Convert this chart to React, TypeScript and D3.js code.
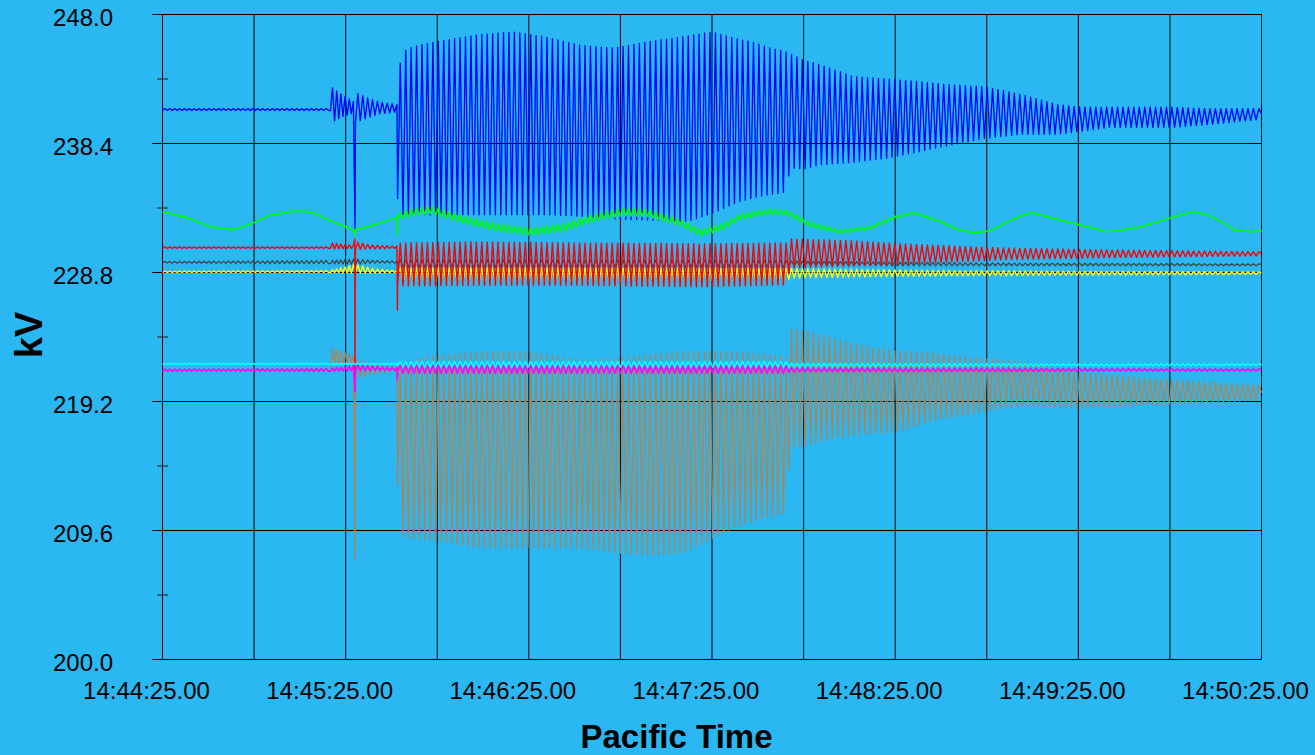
import React from "react";
import * as d3 from "d3";

type Pt = [number, number];

// time axis: seconds after 14:44:25
const timeTicks = [0, 60, 120, 180, 240, 300, 360];
const timeLabels = ["14:44:25.00", "14:45:25.00", "14:46:25.00", "14:47:25.00", "14:48:25.00", "14:49:25.00", "14:50:25.00"];
const gridSeconds = [0, 30, 60, 90, 120, 150, 180, 210, 240, 270, 300, 330, 360];
const kvTicks = [248.0, 238.4, 228.8, 219.2, 209.6, 200.0];
const kvMinor = [243.2, 233.6, 224.0, 214.4, 204.8];

// swing phases: start (s) and period (s) of the oscillation
const phaseStart = [0, 55, 63.2, 77];
const phasePeriod = [1.6, 1.37, 1.6, 1.78];

// blue trace, upper / lower swing (kV)
const blueT = [0, 55, 55.3, 59, 62.8, 63.2, 67, 71, 76.8, 77, 78.5, 82, 88, 93, 104, 115, 126, 137, 148, 160, 172, 180, 188, 194, 199, 204.5, 205.5, 210, 215, 226, 237, 248, 256, 270, 282, 293, 301, 310, 320, 331, 342, 360];
const blueHi = [241.0, 241.0, 242.6, 242.0, 241.5, 242.2, 241.8, 241.5, 241.3, 243.2, 245.2, 245.6, 245.9, 246.1, 246.5, 246.7, 246.3, 245.7, 245.5, 246.0, 246.4, 246.7, 246.2, 245.9, 245.5, 245.2, 245.1, 244.6, 244.3, 243.4, 243.2, 243.0, 242.8, 242.6, 242.0, 241.3, 241.1, 241.1, 241.1, 241.1, 241.0, 241.0];
const blueLo = [240.85, 240.85, 239.95, 240.4, 240.7, 239.95, 240.3, 240.6, 240.75, 234.3, 233.1, 233.1, 233.1, 233.1, 233.1, 233.1, 233.1, 233.0, 232.8, 232.7, 232.6, 233.2, 234.0, 234.4, 234.6, 234.8, 236.6, 236.5, 236.8, 237.0, 237.3, 237.8, 238.2, 238.8, 239.1, 239.1, 239.3, 239.6, 239.6, 239.6, 239.8, 240.2];
const blueSpikes: Pt[] = [[63.06, 232.0]];

// green trace: slow swing plus a small fast ripple
const greenT = [0, 8.2, 15.7, 23.3, 29.8, 35.4, 44.2, 49.5, 57.3, 62.6, 67.2, 72.4, 76.3, 81.2, 87.8, 98.6, 109.7, 120.5, 131.4, 142.5, 151.0, 158.9, 169.7, 176.2, 182.8, 189.3, 198.2, 204.7, 212.3, 222.1, 231.9, 239.5, 246.0, 254.8, 260.4, 265.7, 271.2, 276.8, 282.0, 285.3, 289.9, 296.4, 303.0, 309.6, 314.8, 320.4, 325.9, 331.2, 337.7, 342.3, 347.6, 350.8, 356.4, 360];
const greenKv = [233.32, 232.87, 232.2, 231.98, 232.5, 233.09, 233.39, 233.24, 232.42, 231.98, 232.2, 232.57, 232.87, 233.24, 233.47, 232.72, 232.13, 231.83, 232.13, 232.94, 233.32, 233.24, 232.5, 231.75, 232.13, 232.94, 233.32, 233.24, 232.35, 231.83, 232.13, 232.87, 233.24, 232.6, 232.0, 231.75, 231.9, 232.57, 233.09, 233.24, 232.94, 232.57, 232.2, 231.83, 231.98, 232.2, 232.57, 232.94, 233.32, 233.09, 232.5, 231.98, 231.83, 231.9];
const greenRippleT = [0, 76.9, 77.5, 160, 205, 240, 270, 360];
const greenRipple = [0.03, 0.03, 0.28, 0.28, 0.2, 0.1, 0.04, 0.03];
const greenSpikes: Pt[] = [[63.06, 231.6], [76.95, 231.6]];

const redT = [0, 55, 55.3, 62.8, 63.2, 68, 76.8, 77, 104, 137, 176, 204.5, 205.5, 226, 243, 259, 275, 308, 360];
const redHi = [230.7, 230.7, 231.0, 230.8, 231.1, 230.85, 230.75, 231.0, 231.08, 231.0, 230.93, 231.0, 231.3, 231.16, 230.93, 230.78, 230.63, 230.49, 230.34];
const redLo = [230.6, 230.6, 230.55, 230.6, 230.5, 230.55, 230.6, 227.8, 227.85, 227.85, 227.73, 227.88, 229.14, 229.29, 229.44, 229.59, 229.74, 229.89, 230.04];
const redSpikes: Pt[] = [[62.98, 231.3], [63.06, 221.0], [76.95, 226.0]];

const grayT = [0, 55, 63.2, 70, 76.8, 77.5, 204.5, 205.5, 280, 360];
const grayHi = [229.62, 229.7, 229.8, 229.7, 229.65, 229.75, 229.7, 229.65, 229.5, 229.45];
const grayLo = [229.5, 229.45, 229.4, 229.5, 229.5, 229.2, 229.2, 229.3, 229.3, 229.3];

const yellowT = [0, 55, 63.2, 70, 76.8, 77.5, 204.5, 205.5, 260, 360];
const yellowHi = [228.9, 228.95, 229.4, 229.05, 228.95, 229.15, 229.1, 229.1, 228.95, 228.85];
const yellowLo = [228.8, 228.8, 228.75, 228.75, 228.8, 228.1, 228.1, 228.4, 228.55, 228.65];

const brownT = [0, 55, 55.3, 59, 62.8, 63.2, 68, 76.8, 77, 78, 88, 104, 120, 137, 150, 160, 170, 176, 187, 198, 204.5, 205.5, 212, 220, 231, 240, 253, 264, 275, 283, 300, 320, 340, 360];
const brownHi = [221.6, 221.6, 223.2, 222.9, 222.6, 222.3, 222.0, 221.8, 222.1, 222.1, 222.6, 222.9, 222.9, 222.3, 222.4, 222.7, 222.9, 222.9, 222.9, 222.7, 222.5, 224.6, 224.4, 223.9, 223.3, 223.0, 222.8, 222.5, 222.3, 222.1, 221.4, 221.0, 220.7, 220.4];
const brownLo = [221.45, 221.45, 221.9, 222.0, 222.1, 220.9, 221.2, 221.45, 213.0, 209.1, 208.9, 208.3, 208.3, 208.3, 207.9, 207.75, 207.9, 208.5, 209.8, 210.6, 210.9, 215.7, 216.0, 216.5, 216.8, 216.9, 217.8, 218.2, 218.7, 218.9, 218.7, 218.9, 219.1, 219.3];
const brownSpikes: Pt[] = [[63.06, 207.4]];

const cyanT = [0, 76.8, 77.5, 204.5, 205.5, 300, 360];
const cyanHi = [222.05, 222.05, 222.18, 222.18, 222.05, 222.0, 222.0];
const cyanLo = [221.95, 221.95, 221.75, 221.75, 221.77, 221.85, 221.88];

const magentaT = [0, 55, 63.2, 76.8, 77.5, 204.5, 205.5, 300, 360];
const magentaHi = [221.6, 221.65, 221.9, 221.7, 221.9, 221.85, 221.7, 221.65, 221.62];
const magentaLo = [221.45, 221.45, 221.5, 221.5, 221.3, 221.3, 221.4, 221.45, 221.47];
const magentaSpikes: Pt[] = [[63.06, 219.9], [76.95, 220.8]];

const x = d3.scaleLinear().domain([0, 360]).range([162.5, 1261.5]);
const y = d3.scaleLinear().domain([200, 248]).range([659.5, 14.5]);

// walk the swing phases, alternating between lower and upper envelope
function buildTrace(knotT: number[], hi: number[], lo: number[], spikes: Pt[], baseT?: number[], base?: number[]): Pt[] {
  const hiAt = d3.scaleLinear().domain(knotT).range(hi).clamp(true);
  const loAt = d3.scaleLinear().domain(knotT).range(lo).clamp(true);
  const baseAt = baseT && base ? d3.scaleLinear().domain(baseT).range(base).clamp(true) : () => 0;
  const pts: Pt[] = [];
  phaseStart.forEach((start, i) => {
    const end = i + 1 < phaseStart.length ? phaseStart[i + 1] : 360;
    const half = phasePeriod[i] / 2;
    for (let k = 0; start + k * half < end; k++) {
      const t = start + k * half;
      pts.push([t, baseAt(t) + (k % 2 ? hiAt(t) : loAt(t))]);
    }
  });
  pts.push([360, baseAt(360) + (hiAt(360) + loAt(360)) / 2]);
  spikes.forEach((s) => pts.push(s));
  pts.sort((a, b) => a[0] - b[0]);
  return pts;
}

const traces = [
  { name: "brown", color: "#a8865a", width: 1.3, pts: buildTrace(brownT, brownHi, brownLo, brownSpikes) },
  { name: "blue", color: "#0000ff", width: 1.3, pts: buildTrace(blueT, blueHi, blueLo, blueSpikes) },
  { name: "gray", color: "#404040", width: 1.2, pts: buildTrace(grayT, grayHi, grayLo, []) },
  { name: "yellow", color: "#ffff00", width: 1.4, pts: buildTrace(yellowT, yellowHi, yellowLo, []) },
  { name: "red", color: "#ff0000", width: 1.4, pts: buildTrace(redT, redHi, redLo, redSpikes) },
  { name: "magenta", color: "#ff00ff", width: 1.6, pts: buildTrace(magentaT, magentaHi, magentaLo, magentaSpikes) },
  { name: "cyan", color: "#00ffff", width: 1.6, pts: buildTrace(cyanT, cyanHi, cyanLo, []) },
  {
    name: "green",
    color: "#00ff00",
    width: 1.6,
    pts: buildTrace(greenRippleT, greenRipple, greenRipple.map((v) => -v), greenSpikes, greenT, greenKv),
  },
];

const line = d3
  .line<Pt>()
  .x((d) => x(d[0]))
  .y((d) => y(d[1]));

const font = "'Liberation Sans', Arial, sans-serif";

export default function App() {
  return (
    <svg
      width={1315}
      height={755}
      style={{ position: "absolute", left: 0, top: 0, background: "#2ab7f2" }}
      fontFamily={font}
    >
      {/* grid */}
      {gridSeconds.map((s) => (
        <line key={"v" + s} x1={x(s)} x2={x(s)} y1={y(248)} y2={y(200)} stroke="#000" strokeWidth={1} />
      ))}
      {kvTicks.map((v) => (
        <line key={"h" + v} x1={152} x2={x(360)} y1={y(v)} y2={y(v)} stroke="#000" strokeWidth={1} />
      ))}
      {kvMinor.map((v) => (
        <line key={"m" + v} x1={157} x2={168} y1={y(v)} y2={y(v)} stroke="#222" strokeWidth={1} />
      ))}

      {/* traces */}
      {traces.map((tr) => (
        <path key={tr.name} d={line(tr.pts) || ""} fill="none" stroke={tr.color} strokeWidth={tr.width} strokeLinejoin="round" />
      ))}

      {/* labels */}
      {kvTicks.map((v) => (
        <text key={"l" + v} x={113} y={y(v) + 11.5} fontSize={24} textAnchor="end" fill="#000">
          {v.toFixed(1)}
        </text>
      ))}
      {timeTicks.map((s, i) => (
        <text key={"t" + s} x={x(s) - 16} y={699} fontSize={24} textAnchor="middle" fill="#000">
          {timeLabels[i]}
        </text>
      ))}
      <text x={676.5} y={748} fontSize={33} fontWeight="bold" textAnchor="middle" fill="#000">
        Pacific Time
      </text>
      <text transform="translate(42,335) rotate(-90)" fontSize={38} fontWeight="bold" textAnchor="middle" fill="#000">
        kV
      </text>
    </svg>
  );
}
